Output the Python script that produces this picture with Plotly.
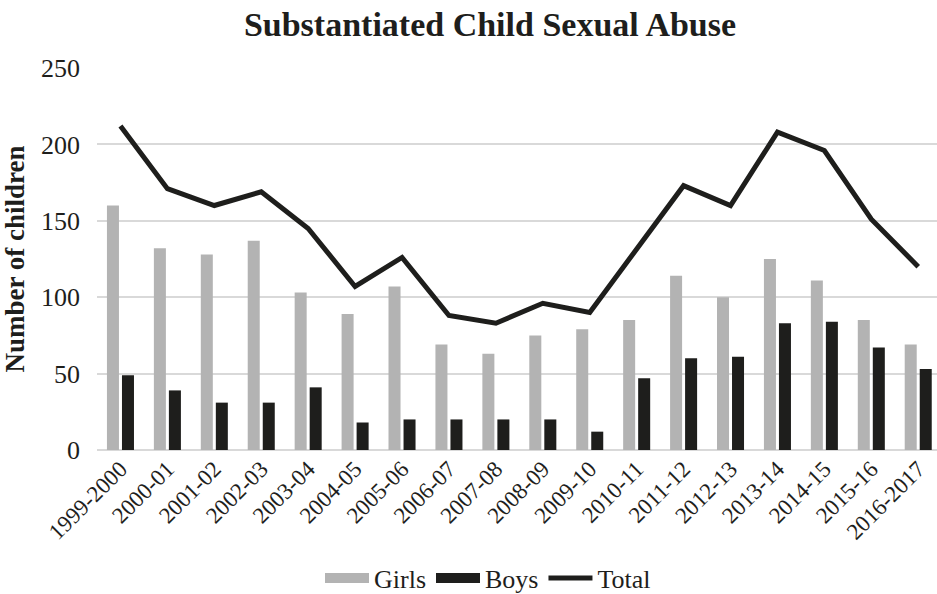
import plotly.graph_objects as go

# Financial years reported
years = ["1999-2000", "2000-01", "2001-02", "2002-03", "2003-04", "2004-05",
         "2005-06", "2006-07", "2007-08", "2008-09", "2009-10", "2010-11",
         "2011-12", "2012-13", "2013-14", "2014-15", "2015-16", "2016-2017"]

# Substantiated cases by sex, and the overall total
girls = [160, 132, 128, 137, 103, 89, 107, 69, 63, 75, 79, 85, 114, 100, 125, 111, 85, 69]
boys = [49, 39, 31, 31, 41, 18, 20, 20, 20, 20, 12, 47, 60, 61, 83, 84, 67, 53]
total = [212, 171, 160, 169, 145, 107, 126, 88, 83, 96, 90, 131, 173, 160, 208, 196, 151, 120]

serif = "Liberation Serif, Times New Roman, serif"
ink = "#1e1e1c"
grey = "#b3b3b3"

fig = go.Figure()
fig.add_trace(go.Bar(x=years, y=girls, name="Girls", showlegend=False,
                     marker=dict(color=grey, line=dict(width=0))))
fig.add_trace(go.Bar(x=years, y=boys, name="Boys", showlegend=False,
                     marker=dict(color=ink, line=dict(width=0))))
fig.add_trace(go.Scatter(x=years, y=total, name="Total", mode="lines", showlegend=False,
                         line=dict(color=ink, width=5)))

# Legend keys: wide swatches for the bars, a thick stroke for the line
for name, color, width in [("Girls", grey, 13), ("Boys", ink, 13), ("Total", ink, 5)]:
    fig.add_trace(go.Scatter(x=[None], y=[None], name=name, mode="lines",
                             line=dict(color=color, width=width)))

fig.update_layout(
    width=937, height=594,
    margin=dict(l=97, r=0, t=68, b=144),
    paper_bgcolor="white", plot_bgcolor="white",
    barmode="group", bargap=0.36, bargroupgap=0.2,
    font=dict(family=serif, color=ink, size=26),
    title=dict(text="<b>Substantiated Child Sexual Abuse</b>",
               x=490 / 937, xanchor="center", y=1 - 24 / 594, yanchor="middle",
               font=dict(family=serif, size=34, color=ink)),
    legend=dict(orientation="h", xref="container", yref="container",
                x=488 / 937, xanchor="center", y=16 / 594, yanchor="middle",
                font=dict(family=serif, size=26, color=ink), itemwidth=44,
                tracegroupgap=0, bgcolor="rgba(0,0,0,0)"),
    showlegend=True,
)

fig.update_xaxes(type="category", range=[-0.5, 17.4], tickangle=-45, showgrid=False,
                 showline=False, ticks="", zeroline=False,
                 tickfont=dict(family=serif, size=23, color=ink))
fig.update_yaxes(range=[0, 250], dtick=50, showgrid=True, gridcolor="#d9d9d9",
                 gridwidth=1.5, zeroline=True, zerolinecolor="#d9d9d9",
                 zerolinewidth=1.5, showline=False, ticks="", ticklabelstandoff=16,
                 tickfont=dict(family=serif, size=26, color=ink),
                 title=dict(text="<b>Number of children</b>", standoff=10,
                            font=dict(family=serif, size=27, color=ink)))

fig.write_html("out.html")
